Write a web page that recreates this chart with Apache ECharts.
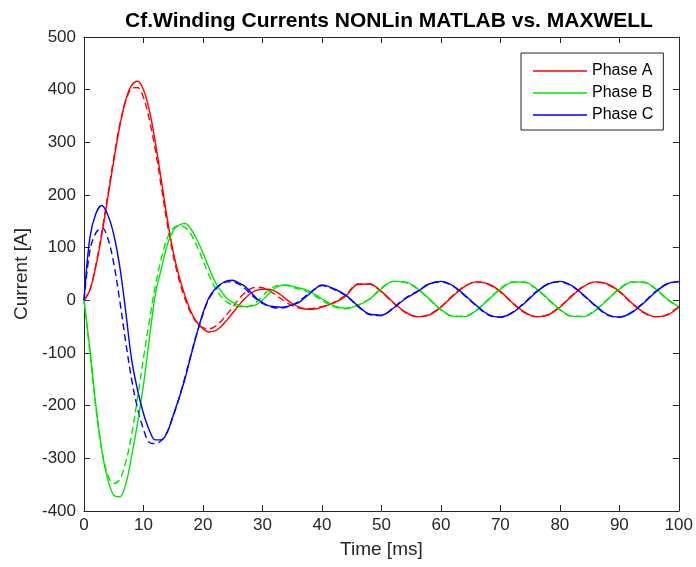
<!DOCTYPE html>
<html>
<head>
<meta charset="utf-8">
<script src="https://cdn.jsdelivr.net/npm/echarts@6/dist/echarts.min.js"></script>
<style>
html,body{margin:0;padding:0;background:#fff;}
#chart{width:696px;height:567px;}
</style>
</head>
<body>
<div id="chart"></div>
<script>
// Time samples [ms]
var times = [0,1,2,3,4,5,6,7,8,9,10,11,12,13,14,15,16,17,18,19,20,21,22,23,24,25,26,27,28,29,30,31,32,33,34,35,36,37,38,39,40,
  42,44,46,48,50,52,54,56,58,60,62,64,66,68,70,72,74,76,78,80,82,84,86,88,90,92,94,96,98,100];

// MATLAB (solid) currents [A]
var phaseA = [0,20,65,125,195,265,330,380,408,416,400,360,300,228,155,92,45,8,-22,-42,-54,-60,-58,-50,-38,-24,-10,3,13,19,21,21,18,11,2,-6,-12,-16,-17,-16,-13,
  -5,8,30,31,17,-4,-22,-31,-28,-13,8,26,35,31,17,-4,-22,-31,-28,-13,8,26,35,31,17,-4,-22,-31,-28,-13];
var phaseB = [0,-94,-200,-285,-340,-370,-373,-350,-296,-233,-160,-72,12,60,105,132,143,146,135,115,90,62,36,18,4,-4,-9,-12,-11,-8,0,12,22,28,29,27,24,21,17,10,3,
  -10,-15,-10,2,22,36,35,23,3,-17,-30,-31,-19,1,21,34,35,23,3,-17,-30,-31,-19,1,21,34,35,23,3,-12];
var phaseC = [0,120,165,180,162,125,65,-20,-112,-170,-215,-247,-265,-265,-250,-218,-185,-148,-104,-62,-24,5,21,31,37,38,33,27,16,4,-4,-10,-12,-13,-12,-9,-5,4,13,23,29,
  22,10,-10,-26,-28,-15,3,16,31,36,28,10,-10,-27,-32,-24,-6,15,31,36,28,10,-10,-27,-32,-24,-6,15,31,36];

// MAXWELL (dashed) currents [A]
var phaseAmx = [0,20,68,130,200,270,333,378,402,404,385,342,285,215,145,85,38,2,-25,-43,-52,-54,-50,-40,-27,-13,2,14,22,25,24,19,12,4,-4,-10,-14,-16,-16,-14,-12,
  -4,10,31,31,16,-5,-23,-31,-27,-12,9,27,35,30,16,-5,-23,-31,-27,-12,9,27,35,30,16,-5,-23,-31,-27,-12];
var phaseBmx = [0,-100,-205,-285,-332,-348,-340,-308,-255,-185,-110,-38,28,80,118,137,142,138,125,103,76,48,25,8,-3,-9,-12,-13,-10,-3,8,19,26,29,28,25,22,19,14,7,0,
  -12,-16,-9,3,23,36,34,22,2,-18,-30,-30,-18,2,22,35,34,22,2,-18,-30,-30,-18,2,22,35,34,22,2,-13];
var phaseCmx = [0,95,128,138,118,70,0,-78,-150,-205,-245,-270,-272,-266,-250,-220,-185,-145,-102,-62,-26,3,19,30,35,35,31,23,12,2,-6,-11,-14,-15,-13,-9,-3,6,15,23,28,
  21,9,-11,-27,-29,-14,4,17,31,35,27,9,-11,-28,-32,-23,-5,16,31,35,27,9,-11,-28,-32,-23,-5,16,31,35];

var legendNames = ['Phase A','Phase B','Phase C'];
var colors = ['#ff0000','#00e600','#0000ff'];

function pairs(vals){ return times.map(function(t,i){ return [t, vals[i]]; }); }

var axisCol = '#262626';
var font = 'Liberation Sans, Arial, Helvetica, sans-serif';

var solid = [phaseA, phaseB, phaseC];
var dashed = [phaseAmx, phaseBmx, phaseCmx];
var series = [];
for (var k = 0; k < 3; k++) {
  series.push({
    name: legendNames[k] + ' MAXWELL', type: 'line', data: pairs(dashed[k]), smooth: 0.35,
    symbol: 'none', lineStyle: {color: colors[k], width: 1.4, type: [7,4]}, itemStyle:{color: colors[k]}, z: 2
  });
}
for (var k = 0; k < 3; k++) {
  series.push({
    name: legendNames[k], type: 'line', data: pairs(solid[k]), smooth: 0.35,
    symbol: 'none', lineStyle: {color: colors[k], width: 1.4}, itemStyle:{color: colors[k]}, z: 3
  });
}

var chart = echarts.init(document.getElementById('chart'), null, {renderer: 'canvas'});
chart.setOption({
  animation: false,
  backgroundColor: '#fff',
  title: {
    text: 'Cf.Winding Currents NONLin MATLAB vs. MAXWELL',
    left: 384, top: 6, textAlign: 'center',
    textStyle: {fontFamily: font, fontSize: 21, fontWeight: 'bold', color: '#000'}
  },
  legend: {
    data: legendNames.map(function(n){ return {name: n, icon: 'rect'}; }),
    orient: 'vertical', left: 521, top: 53,
    itemWidth: 54, itemHeight: 1.5, itemGap: 6,
    padding: [10, 10, 7, 12],
    borderColor: axisCol, borderWidth: 1, backgroundColor: '#fff',
    textStyle: {fontFamily: font, fontSize: 16, lineHeight: 16, color: '#000'}
  },
  grid: {left: 84, right: 14, top: 37, bottom: 56, containLabel: false},
  xAxis: [{
    type: 'value', min: 0, max: 100, interval: 10, position: 'bottom',
    name: 'Time [ms]', nameLocation: 'middle', nameGap: 29,
    nameTextStyle: {fontFamily: font, fontSize: 19, color: axisCol},
    axisLine: {show: true, onZero: false, lineStyle: {color: axisCol, width: 1}},
    axisTick: {show: true, inside: true, length: 6, lineStyle: {color: axisCol}},
    axisLabel: {fontFamily: font, fontSize: 17, color: axisCol, margin: 6, showMinLabel: true, showMaxLabel: true},
    splitLine: {show: false}
  }, {
    type: 'value', min: 0, max: 100, interval: 10, position: 'top',
    axisLine: {show: true, onZero: false, lineStyle: {color: axisCol, width: 1}},
    axisTick: {show: true, inside: true, length: 6, lineStyle: {color: axisCol}},
    axisLabel: {show: false}, splitLine: {show: false}
  }],
  yAxis: [{
    type: 'value', min: -400, max: 500, interval: 100, position: 'left',
    name: 'Current [A]', nameLocation: 'middle', nameGap: 50,
    nameTextStyle: {fontFamily: font, fontSize: 19, color: axisCol},
    axisLine: {show: true, onZero: false, lineStyle: {color: axisCol, width: 1}},
    axisTick: {show: true, inside: true, length: 6, lineStyle: {color: axisCol}},
    axisLabel: {fontFamily: font, fontSize: 17, color: axisCol, margin: 8, showMinLabel: true, showMaxLabel: true},
    splitLine: {show: false}
  }, {
    type: 'value', min: -400, max: 500, interval: 100, position: 'right',
    axisLine: {show: true, onZero: false, lineStyle: {color: axisCol, width: 1}},
    axisTick: {show: true, inside: true, length: 6, lineStyle: {color: axisCol}},
    axisLabel: {show: false}, splitLine: {show: false}
  }],
  series: series
});
</script>
</body>
</html>
